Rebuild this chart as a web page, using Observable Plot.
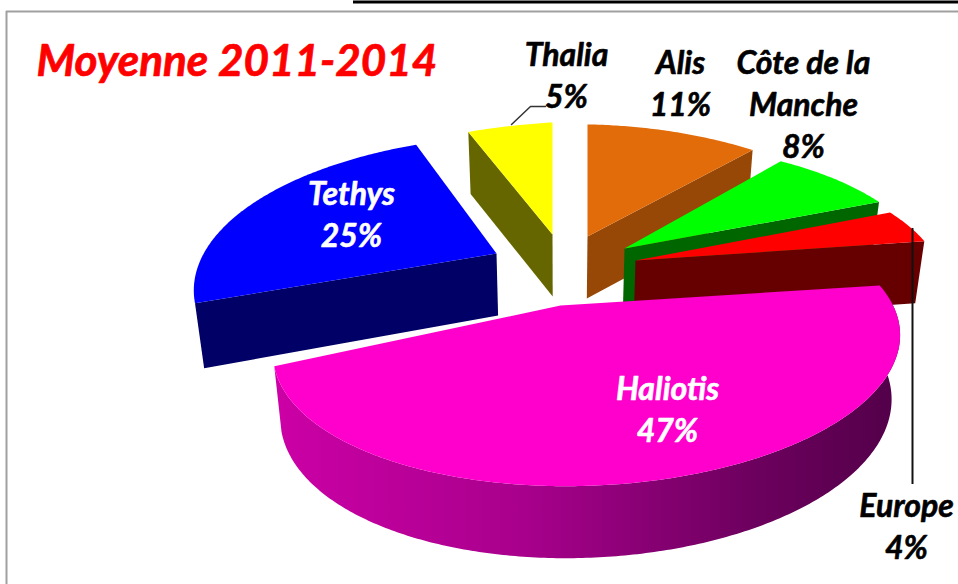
<!DOCTYPE html>
<html><head><meta charset="utf-8">
<script src="https://cdn.jsdelivr.net/npm/d3@7"></script>
<script src="https://cdn.jsdelivr.net/npm/@observablehq/plot@0.6"></script>
<style>html,body{margin:0;padding:0;background:#fff;overflow:hidden}svg{display:block}</style>
</head><body><div id="chart"></div>
<script>
const titleText = "Moyenne 2011-2014";
const categories = ["Alis", "Côte de la\nManche", "Europe", "Haliotis", "Tethys", "Thalia"];
const shares = [11, 8, 4, 47, 25, 5];
const topColors = ["#e36c0a", "#00ff00", "#ff0000", "#ff00cc", "#0000ff", "#ffff00"];
const sideColors = ["#974806", "#006600", "#660000", "url(#halGrad)", "#000066", "#666600"];
const labelColors = ["#000", "#000", "#000", "#fff", "#fff", "#000"];
// where each exploded slice sits: centre, drawn apex offset and stretch of the shared projection
const apexX = [587, 624, 635, 570, 496, 552];
const apexY = [236, 248, 260, 313, 253, 234];
const apexShift = [0, 0, 0, -10, 0, 0];
const apexLift = [0, 0, 0, 8, 0, 0];
const stretchX = [0.94, 0.89, 0.89, 0.993, 1.05, 1.1];
const stretchY = [1, 0.92, 0.9, 0.98, 1.05, 1];
const tilt = [-0.05, 0, 0.01, 0.035, 0.02, 0.03];
const skew = [0.09, 0.09, 0.09, 0.05, 0.09, 0.09];
const labelX = [680, 803, 906, 667, 351, 566];
const labelY = [81, 102, 524, 407, 212, 73];
const drawOrder = [4, 5, 0, 1, 2, 3];

const pie = d3.pie().sort(null).startAngle(0).endAngle(2 * Math.PI)(shares);
const RX = 307, RY = 137, K = 0.2225, DEPTH = 62;
function project(i, a) {
  const X = Math.sin(a), Y = Math.cos(a);
  const w = 1 + K * Y - skew[i] * X;
  const px = stretchX[i] * RX * X / w;
  return [apexX[i] + px, apexY[i] - stretchY[i] * RY * Y / w - tilt[i] * px, Y];
}
function drop([x, y, Y]) {
  return [x + (560 - x) * 0.025, y + DEPTH - 10 * Math.min(Y, 0)];
}
function arc(i) {
  const {startAngle: a0, endAngle: a1} = pie[i], n = Math.ceil((a1 - a0) * 90);
  return d3.range(n + 1).map(k => project(i, a0 + (a1 - a0) * k / n));
}
const polys = [];
function add(pts, fill) {
  polys.push({pts: pts.map(p => [p[0], p[1]]), fill});
}
for (const i of drawOrder) {
  const A = arc(i);
  const apexPt = [apexX[i] + apexShift[i], apexY[i] - apexLift[i], 0];
  const mid = (pie[i].startAngle + pie[i].endAngle) / 2;
  if (shares[i] === d3.max(shares)) {
    add([...A, ...A.slice().reverse().map(drop)], sideColors[i]);
  } else {
    const edge = mid > Math.PI ? A[0] : A[A.length - 1];
    add([apexPt, edge, drop(edge), drop(apexPt)], sideColors[i]);
  }
  add([apexPt, ...A], topColors[i]);
}

const frameV = [{x: 6, y1: 11, y2: 584}];
const frameH = [{y: 11, x1: 6, x2: 958}];
const topBar = [{y: 1.5, x1: 353, x2: 958}];
const thaliaLeader = [[511, 124], [530, 106], [545, 106]].map(([x, y]) => ({x, y}));
const europeLeader = [{x: 912, y1: 228, y2: 484}];

const labels = categories.map((c, i) => ({text: c + "\n" + shares[i] + "%", x: labelX[i], y: labelY[i], color: labelColors[i]}));

const chart = Plot.plot({
  width: 958, height: 584, margin: 0,
  x: {domain: [0, 958], range: [0, 958], axis: null},
  y: {domain: [0, 584], range: [0, 584], axis: null},
  style: {background: "transparent"},
  marks: [
    () => {
      const defs = d3.create("svg:defs");
      const g = defs.append("linearGradient").attr("id", "halGrad");
      [[0, "#cc00a6"], [0.4, "#a8008c"], [0.75, "#6f0060"], [1, "#520048"]].forEach(([o, c]) =>
        g.append("stop").attr("offset", o).attr("stop-color", c));
      return defs.node();
    },
    Plot.ruleX(frameV, {x: "x", y1: "y1", y2: "y2", stroke: "#a0a0a0", strokeWidth: 2}),
    Plot.ruleY(frameH, {y: "y", x1: "x1", x2: "x2", stroke: "#a0a0a0", strokeWidth: 2}),
    Plot.ruleY(topBar, {y: "y", x1: "x1", x2: "x2", stroke: "#000", strokeWidth: 3}),
    ...polys.map(p => Plot.line(p.pts, {x: d => d[0], y: d => d[1], curve: "linear-closed", fill: p.fill, stroke: "none"})),
    Plot.line(thaliaLeader, {x: "x", y: "y", stroke: "#333", strokeWidth: 1.5}),
    Plot.ruleX(europeLeader, {x: "x", y1: "y1", y2: "y2", stroke: "#111", strokeWidth: 2}),
    Plot.text(labels, {x: "x", y: "y", text: "text", fill: "color", stroke: "color", strokeWidth: 0.6, fontFamily: "Lato", fontWeight: 700, fontStyle: "italic", fontSize: 32, lineHeight: 1.31, textAnchor: "middle"}),
    Plot.text([titleText], {x: [36], y: [61], text: d => d, fill: "#ff0000", stroke: "#ff0000", strokeWidth: 0.7, fontFamily: "Lato", fontWeight: 700, fontStyle: "italic", fontSize: 44, textAnchor: "start"})
  ]
});
document.getElementById("chart").appendChild(chart);
</script></body></html>
